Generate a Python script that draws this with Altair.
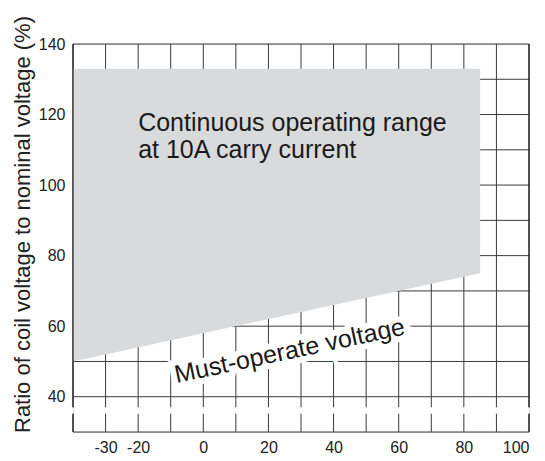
import altair as alt
import pandas as pd

# ---- data ----
x_tick_labels = [-30, -20, 0, 20, 40, 60, 80, 100]
y_tick_labels = [40, 60, 80, 100, 120, 140]
x_grid = [-40, -30, -20, -10, 0, 10, 20, 30, 40, 50, 60, 70, 80, 90, 100]
y_grid = [30, 40, 50, 60, 70, 80, 90, 100, 110, 120, 130, 140]
x_domain = [-40, 100]
y_domain = [30, 140]
axis_break = [35.2, 37.0]          # small gap in the vertical lines below 40 %

region_temp = [-40, 85]            # ambient temperature (deg C)
region_low = [50, 75]              # must-operate voltage (%)
region_high = [133, 133]           # upper limit (%)

label_range = "Continuous operating range\nat 10A carry current"
label_must = "Must-operate voltage"

FONT = "Liberation Sans"
GRID = "#3a3a3a"

xs = alt.Scale(domain=x_domain, nice=False, zero=False)
ys = alt.Scale(domain=y_domain, nice=False, zero=False)

# vertical lines, split at the axis break
v_rows = []
for xv in x_grid:
    v_rows.append({"x": xv, "y": y_domain[0], "y2": axis_break[0]})
    v_rows.append({"x": xv, "y": axis_break[1], "y2": y_domain[1]})
df_v = pd.DataFrame(v_rows)
df_frame = df_v[df_v["x"].isin(x_domain)]

df_h = pd.DataFrame({"y": y_grid, "x": x_domain[0], "x2": x_domain[1]})

df_region = pd.DataFrame({"t": region_temp, "lo": region_low, "hi": region_high})

x_axis = alt.Axis(values=x_tick_labels, grid=False, ticks=False, domain=False,
                  labelPadding=7, labelFontSize=16, labelFont=FONT,
                  labelColor="#222", title=None,
                  labelExpr="toString(datum.value)")
y_axis = alt.Axis(values=y_tick_labels, grid=False, ticks=False, domain=False,
                  labelPadding=8, labelFontSize=16, labelFont=FONT,
                  labelColor="#222",
                  title="Ratio of coil voltage to nominal voltage (%)",
                  titleFont=FONT, titleFontSize=22, titleFontWeight="normal",
                  titleColor="#222", titleAngle=270, titleX=-51, titleY=180,
                  titleAlign="center", titleBaseline="middle")

vlines = alt.Chart(df_v).mark_rule(color=GRID, strokeWidth=1).encode(
    x=alt.X("x:Q", scale=xs, axis=x_axis),
    y=alt.Y("y:Q", scale=ys, axis=y_axis),
    y2="y2:Q",
)

hlines = alt.Chart(df_h).mark_rule(color=GRID, strokeWidth=1).encode(
    x=alt.X("x:Q", scale=xs),
    x2="x2:Q",
    y=alt.Y("y:Q", scale=ys),
)

region = alt.Chart(df_region).mark_area(color="#d9dadc", opacity=1).encode(
    x=alt.X("t:Q", scale=xs),
    y=alt.Y("lo:Q", scale=ys),
    y2="hi:Q",
)

frame = alt.Chart(df_frame).mark_rule(color="#222", strokeWidth=1.2).encode(
    x=alt.X("x:Q", scale=xs),
    y=alt.Y("y:Q", scale=ys),
    y2="y2:Q",
)

df_must = pd.DataFrame({"label": [label_must]})
must_halo = alt.Chart(df_must).mark_text(
    font=FONT, fontSize=25, angle=348, align="center", baseline="middle",
    color="white", stroke="white", strokeWidth=12, strokeJoin="miter",
).encode(x=alt.datum(26.5, scale=xs), y=alt.datum(53.0, scale=ys), text="label:N")
must_text = alt.Chart(df_must).mark_text(
    font=FONT, fontSize=25, angle=348, align="center", baseline="middle",
    color="#1a1a1a",
).encode(x=alt.datum(26.5, scale=xs), y=alt.datum(53.0, scale=ys), text="label:N")

df_range = pd.DataFrame({"label": [label_range]})
range_text = alt.Chart(df_range).mark_text(
    font=FONT, fontSize=25, align="left", baseline="alphabetic",
    lineBreak="\n", lineHeight=27, color="#1a1a1a",
).encode(x=alt.datum(-20.0, scale=xs), y=alt.datum(115.3, scale=ys), text="label:N")

chart = alt.layer(vlines, hlines, region, frame, must_halo, must_text, range_text).properties(
    width=456, height=388,
    autosize=alt.AutoSizeParams(type="none"),
    padding={"left": 65, "top": 36, "right": 8, "bottom": 28},
).configure_view(stroke=None).configure(background="white")

chart.save("out.html", embed_options={"renderer": "svg", "actions": False})
